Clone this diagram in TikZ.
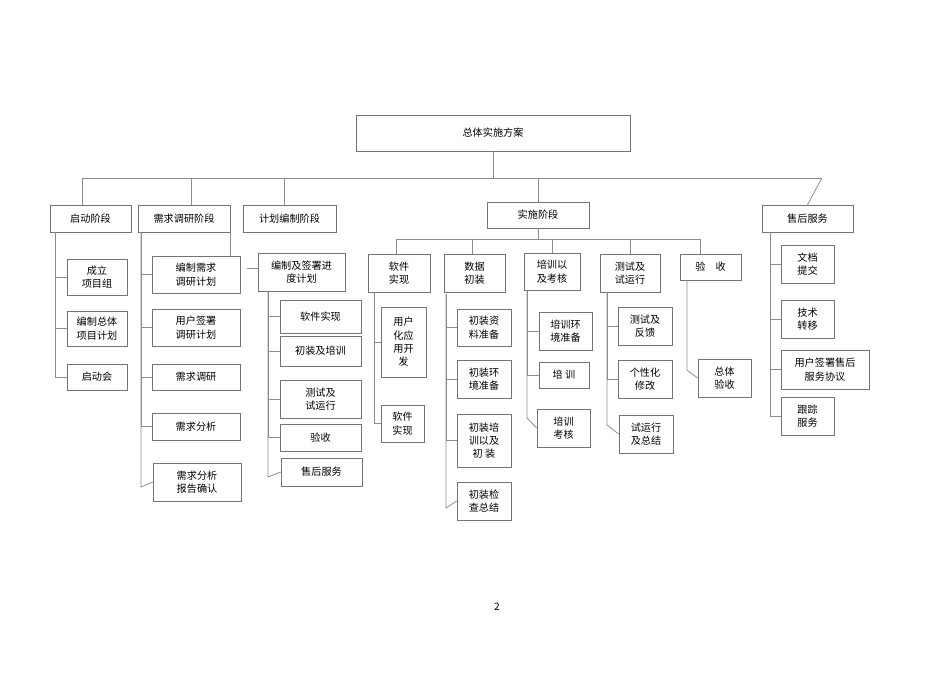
\documentclass[tikz,border=0pt]{standalone}
\usepackage{fontspec}
\setmainfont{Noto Sans CJK SC}
\begin{document}
\begin{tikzpicture}[x=0.75pt,y=-0.75pt,
  bx/.style={draw=black!55,line width=0.5pt,inner sep=1pt,align=center,font=\fontsize{7.6}{10}\selectfont},
  ln/.style={draw=black!45,line width=0.6pt}]
\useasboundingbox (0,0) rectangle (950,672);
\newcommand\bx[6]{\node[bx,minimum width={(#4-#2)*0.75pt},minimum height={(#5-#3)*0.75pt}] (#1) at ({(#2+#4)/2},{(#3+#5)/2}) {#6};}
\bx{top}{356}{115}{630}{151}{总体实施方案}
\bx{qd}{50}{205}{131}{232}{启动阶段}
\bx{xq}{138}{205}{230}{232}{需求调研阶段}
\bx{jh}{243}{205}{336}{232}{计划编制阶段}
\bx{ss}{487}{202}{589}{228}{实施阶段}
\bx{sh}{762}{205}{853}{232}{售后服务}
\coordinate (b0) at (82,178); \coordinate (b1) at (822,178);
\draw[ln] (top.south) -- (top.south |- b0);
\draw[ln] (b0) -- (b1);
\draw[ln] (b0) -- (b0 |- qd.north);
\draw[ln] (191,178) -- (191,205);
\draw[ln] (284,178) -- (284,205);
\draw[ln] (538,178) -- (ss.north);
\draw[ln] (b1) -- (sh.north);
% 启动
\bx{a1}{67}{259}{127}{295}{成立\\项目组}
\bx{a2}{67}{311}{127}{346}{编制总体\\项目计划}
\bx{a3}{67}{364}{127}{390}{启动会}
\foreach \c in {a1,a2,a3}{\draw[ln] (55,232) |- (\c.west);}
% 需求
\bx{b1n}{152}{256}{240}{293}{编制需求\\调研计划}
\bx{b2}{152}{309}{240}{346}{用户签署\\调研计划}
\bx{b3}{152}{364}{240}{390}{需求调研}
\bx{b4}{152}{413}{240}{440}{需求分析}
\bx{b5}{153}{463}{241}{501}{需求分析\\报告确认}
\foreach \c in {b1n,b2,b3,b4}{\draw[ln] (141,232) |- (\c.west);}
\draw[ln] (141,232) -- (141,487) -- (b5.west);
\draw[ln] (230,232) -- (230,256);
% 计划
\bx{c0}{258}{253}{345}{291}{编制及签署进\\度计划}
\draw[ln] (247,268) -- (c0.west |- 0,268);
\bx{c1}{280}{300}{361}{333}{软件实现}
\bx{c2}{280}{336}{361}{366}{初装及培训}
\bx{c3}{280}{380}{361}{418}{测试及\\试运行}
\bx{c4}{280}{424}{361}{451}{验收}
\bx{c5}{281}{458}{362}{486}{售后服务}
\foreach \c in {c1,c2,c3,c4}{\draw[ln] (268,291) |- (\c.west);}
\draw[ln] (268,291) -- (268,477) -- (c5.west);
% 实施 children
\draw[ln] (ss.south) -- (538,239);
\draw[ln] (396,239) -- (700,239);
\bx{d1}{368}{254}{430}{292}{软件\\实现}
\bx{d2}{444}{254}{505}{292}{数据\\初装}
\bx{d3}{524}{253}{580}{290}{培训以\\及考核}
\bx{d4}{600}{254}{660}{292}{测试及\\试运行}
\bx{d5}{680}{254}{741}{280}{验\quad 收}
\foreach \x/\c in {396/d1,472/d2,552/d3,630/d4,700/d5}{\draw[ln] (\x,239) -- (\x,0 |- \c.north);}
\bx{e1}{381}{307}{426}{377}{用户\\化应\\用开\\发}
\bx{e2}{381}{405}{424}{442}{软件\\实现}
\foreach \c in {e1,e2}{\draw[ln] (374,292) |- (\c.west);}
\bx{f1}{457}{309}{511}{346}{初装资\\料准备}
\bx{f2}{457}{360}{511}{398}{初装环\\境准备}
\bx{f3}{457}{414}{511}{467}{初装培\\训以及\\初\ 装}
\bx{f4}{457}{482}{511}{520}{初装检\\查总结}
\foreach \c in {f1,f2,f3}{\draw[ln] (446,294) |- (\c.west);}
\draw[ln] (446,294) -- (446,508) -- (f4.west);
\bx{g1}{539}{312}{592}{350}{培训环\\境准备}
\bx{g2}{539}{362}{589}{388}{培\ 训}
\bx{g3}{537}{409}{590}{447}{培训\\考核}
\foreach \c in {g1,g2}{\draw[ln] (527,290) |- (\c.west);}
\draw[ln] (527,290) -- (527,418) -- (g3.west);
\bx{h1}{618}{307}{672}{345}{测试及\\反馈}
\bx{h2}{618}{360}{672}{398}{个性化\\修改}
\bx{h3}{619}{415}{673}{453}{试运行\\及总结}
\foreach \c in {h1,h2}{\draw[ln] (607,292) |- (\c.west);}
\draw[ln] (607,292) -- (607,425) -- (h3.west);
\bx{i1}{698}{359}{751}{397}{总体\\验收}
\draw[ln] (687,280) -- (687,370) -- (i1.west);
% 售后
\bx{j1}{781}{245}{834}{283}{文档\\提交}
\bx{j2}{781}{300}{834}{338}{技术\\转移}
\bx{j3}{781}{350}{869}{389}{用户签署售后\\服务协议}
\bx{j4}{781}{397}{834}{435}{跟踪\\服务}
\foreach \c in {j1,j2,j3,j4}{\draw[ln] (770,232) |- (\c.west);}
\node[font=\fontsize{7.6}{10}\selectfont] (pg) at (497,607) {2};
\end{tikzpicture}
\end{document}
